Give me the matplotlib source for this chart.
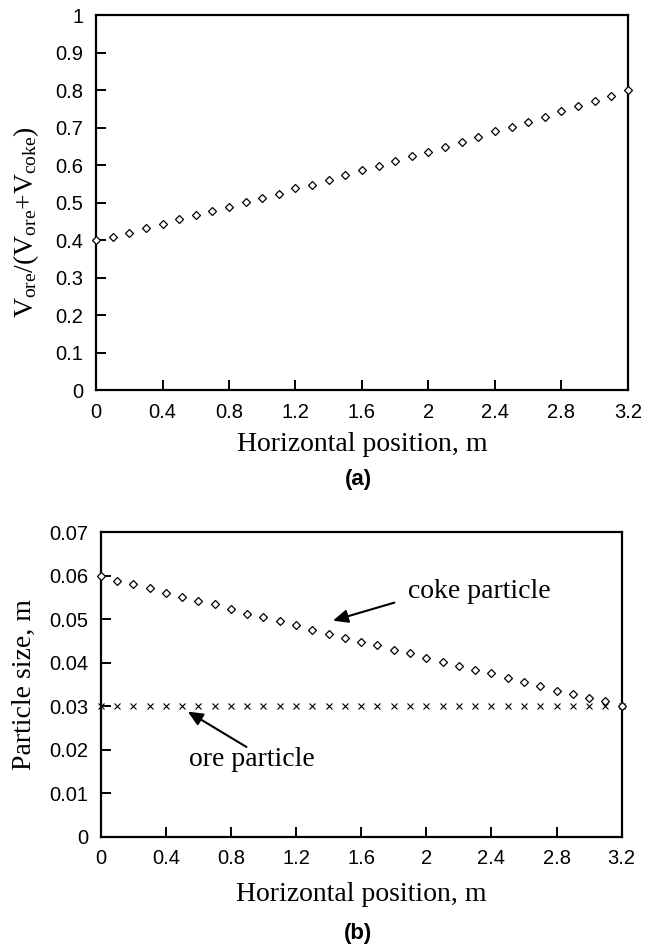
import matplotlib
matplotlib.use("Agg")
import matplotlib.pyplot as plt
import numpy as np

# data
positions = [round(0.1 * i, 1) for i in range(33)]
ore_fraction = [0.400, 0.409, 0.420, 0.431, 0.443, 0.455, 0.467, 0.477, 0.489, 0.501,
                0.511, 0.522, 0.538, 0.548, 0.560, 0.573, 0.587, 0.598, 0.611, 0.625,
                0.636, 0.648, 0.662, 0.675, 0.690, 0.702, 0.716, 0.729, 0.743, 0.757,
                0.770, 0.783, 0.800]
coke_size = [0.0600, 0.0588, 0.0581, 0.0571, 0.0561, 0.0551, 0.0542, 0.0534, 0.0523, 0.0513,
             0.0505, 0.0495, 0.0486, 0.0476, 0.0466, 0.0458, 0.0448, 0.0441, 0.0430, 0.0422,
             0.0412, 0.0401, 0.0393, 0.0383, 0.0376, 0.0364, 0.0356, 0.0347, 0.0336, 0.0329,
             0.0318, 0.0311, 0.0300]
ore_size = [0.03] * 33

x_ticks = [0, 0.4, 0.8, 1.2, 1.6, 2, 2.4, 2.8, 3.2]
x_tick_labels = ["0", "0.4", "0.8", "1.2", "1.6", "2", "2.4", "2.8", "3.2"]
top_y_ticks = [0, 0.1, 0.2, 0.3, 0.4, 0.5, 0.6, 0.7, 0.8, 0.9, 1]
top_y_labels = ["0", "0.1", "0.2", "0.3", "0.4", "0.5", "0.6", "0.7", "0.8", "0.9", "1"]
bot_y_ticks = [0, 0.01, 0.02, 0.03, 0.04, 0.05, 0.06, 0.07]
bot_y_labels = ["0", "0.01", "0.02", "0.03", "0.04", "0.05", "0.06", "0.07"]

plt.rcParams["mathtext.fontset"] = "custom"
plt.rcParams["mathtext.rm"] = "Liberation Serif"
plt.rcParams["mathtext.it"] = "Liberation Serif:italic"

SERIF = "Liberation Serif"
SANS = "Liberation Sans"

fig = plt.figure(figsize=(6.58, 9.51), dpi=100)
ax1 = fig.add_axes([0.1459, 0.5899, 0.8085, 0.3943])
ax2 = fig.add_axes([0.1530, 0.1202, 0.7918, 0.3201])


def style_axis(ax, yticks, ylabels):
    ax.set_xlim(0, 3.2)
    ax.set_xticks(x_ticks)
    ax.set_xticklabels(x_tick_labels, fontfamily=SANS, fontsize=14.5)
    ax.set_yticks(yticks)
    ax.set_yticklabels(ylabels, fontfamily=SANS, fontsize=14.5)
    ax.set_ylim(yticks[0], yticks[-1])
    ax.tick_params(direction="in", length=7, width=1.4)
    ax.tick_params(axis="x", pad=9)
    ax.tick_params(axis="y", pad=9)
    for spine in ax.spines.values():
        spine.set_linewidth(1.6)


marker_kw = dict(linestyle="none", marker="D", markersize=3.8, markerfacecolor="white",
                 markeredgecolor="black", markeredgewidth=0.9, clip_on=False, zorder=3)

ax1.plot(positions, ore_fraction, **marker_kw)
style_axis(ax1, top_y_ticks, top_y_labels)
ax1.set_xlabel("Horizontal position, m", fontfamily=SERIF, fontsize=20)
ax1.xaxis.set_label_coords(0.5, -0.112)
ax1.set_ylabel(r"V$_{\mathrm{ore}}$/(V$_{\mathrm{ore}}$+V$_{\mathrm{coke}}$)",
               fontfamily=SERIF, fontsize=20)
ax1.yaxis.set_label_coords(-0.103, 0.448)

ax2.plot(positions, ore_size, linestyle="none", marker="x", markersize=5,
         markeredgewidth=0.8, color="black", clip_on=False, zorder=3)
ax2.plot(positions, coke_size, **marker_kw)
style_axis(ax2, bot_y_ticks, bot_y_labels)
ax2.set_xlabel("Horizontal position, m", fontfamily=SERIF, fontsize=20)
ax2.xaxis.set_label_coords(0.5, -0.148)
ax2.set_ylabel("Particle size, m", fontfamily=SERIF, fontsize=20)
ax2.yaxis.set_label_coords(-0.122, 0.5)

arrow_kw = dict(arrowstyle="-|>,head_length=0.9,head_width=0.4", color="black", lw=1.5)
ax2.annotate("", xy=(1.41, 0.0495), xytext=(1.82, 0.0540), arrowprops=arrow_kw)
ax2.text(1.89, 0.0564, "coke particle", fontfamily=SERIF, fontsize=20, va="center", ha="left")
ax2.annotate("", xy=(0.52, 0.0291), xytext=(0.91, 0.0203), arrowprops=arrow_kw)
ax2.text(0.54, 0.0178, "ore particle", fontfamily=SERIF, fontsize=20, va="center", ha="left")

fig.text(0.544, 1 - 480 / 951, "(a)", fontfamily=SANS, fontweight="bold", fontsize=16,
         ha="center", va="center")
fig.text(0.544, 1 - 933 / 951, "(b)", fontfamily=SANS, fontweight="bold", fontsize=16,
         ha="center", va="center")

fig.savefig("out.png", dpi=100)
